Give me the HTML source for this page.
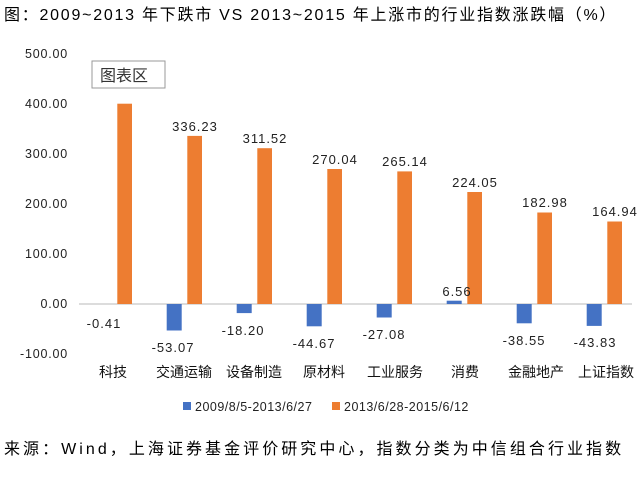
<!DOCTYPE html><html><head><meta charset="utf-8"><style>body{margin:0;background:#fff}svg text{font-family:"Liberation Sans","Noto Sans CJK SC",sans-serif}</style></head><body>
<svg width="643" height="474" xmlns="http://www.w3.org/2000/svg">
<text x="4" y="20" font-size="16" letter-spacing="1.75" fill="#000">图：2009~2013 年下跌市 VS 2013~2015 年上涨市的行业指数涨跌幅（%）</text>
<g font-size="12.5" fill="#222" text-anchor="end" letter-spacing="0.8">
<text x="68" y="58">500.00</text><text x="68" y="108">400.00</text><text x="68" y="158">300.00</text><text x="68" y="208">200.00</text><text x="68" y="258">100.00</text><text x="68" y="308">0.00</text><text x="68" y="358">-100.00</text>
</g>
<line x1="79" y1="304" x2="632" y2="304" stroke="#d0d0d0" stroke-width="1.5"/>
<g fill="#ED7D31">
<rect x="117.3" y="103.7" width="14.7" height="200.3"/>
<rect x="187.3" y="135.9" width="14.7" height="168.1"/>
<rect x="257.3" y="148.2" width="14.7" height="155.8"/>
<rect x="327.3" y="169" width="14.7" height="135"/>
<rect x="397.3" y="171.4" width="14.7" height="132.6"/>
<rect x="467.3" y="192" width="14.7" height="112"/>
<rect x="537.3" y="212.5" width="14.7" height="91.5"/>
<rect x="607.3" y="221.5" width="14.7" height="82.5"/>
</g>
<g fill="#4472C4">
<rect x="166.7" y="304" width="15" height="26.5"/>
<rect x="236.7" y="304" width="15" height="9.1"/>
<rect x="306.7" y="304" width="15" height="22.3"/>
<rect x="376.7" y="304" width="15" height="13.5"/>
<rect x="446.7" y="300.7" width="15" height="3.3"/>
<rect x="516.7" y="304" width="15" height="19.3"/>
<rect x="586.7" y="304" width="15" height="21.9"/>
</g>
<rect x="92" y="61" width="73" height="27" fill="#fff" stroke="#999"/>
<text x="100" y="81" font-size="16" fill="#333">图表区</text>
<g font-size="13" fill="#222" text-anchor="middle" letter-spacing="1">
<text x="195" y="131">336.23</text><text x="265" y="143">311.52</text><text x="335" y="164">270.04</text><text x="405" y="166">265.14</text><text x="475" y="187">224.05</text><text x="545" y="207">182.98</text><text x="615" y="216">164.94</text>
<text x="104" y="328">-0.41</text><text x="173" y="352">-53.07</text><text x="243" y="335">-18.20</text><text x="314" y="348">-44.67</text><text x="384" y="339">-27.08</text><text x="457" y="296">6.56</text><text x="524" y="345">-38.55</text><text x="595" y="347">-43.83</text>
</g>
<g font-size="14" fill="#111" text-anchor="middle">
<text x="113" y="377">科技</text><text x="184" y="377">交通运输</text><text x="254" y="377">设备制造</text><text x="324" y="377">原材料</text><text x="395" y="377">工业服务</text><text x="465" y="377">消费</text><text x="536" y="377">金融地产</text><text x="606" y="377">上证指数</text>
</g>
<rect x="183" y="402" width="8" height="8" fill="#4472C4"/>
<text x="195" y="411" font-size="12.5" fill="#222" letter-spacing="0.5">2009/8/5-2013/6/27</text>
<rect x="332" y="402" width="8" height="8" fill="#ED7D31"/>
<text x="344" y="411" font-size="12.5" fill="#222" letter-spacing="0.5">2013/6/28-2015/6/12</text>
<text x="4" y="454" font-size="16" letter-spacing="3.05" fill="#000">来源：Wind，上海证券基金评价研究中心，指数分类为中信组合行业指数</text>
</svg>
</body></html>
